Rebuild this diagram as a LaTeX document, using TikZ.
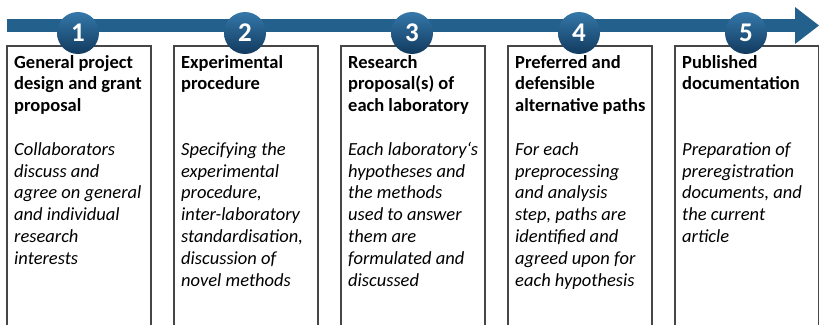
\documentclass[tikz,border=0pt]{standalone}
\usepackage{fontspec}
\setmainfont{Carlito}
\definecolor{barblue}{RGB}{36,96,140}
\definecolor{circtop}{RGB}{52,120,170}
\definecolor{circbot}{RGB}{18,58,94}
\definecolor{boxline}{RGB}{70,70,70}
\tikzset{
  stagebox/.style={draw=boxline, line width=1.2pt},
  stagetext/.style={anchor=north west, inner sep=0pt, align=left, font=\fontsize{18.5}{21.8}\selectfont, text=black},
  numcirc/.style={circle, minimum size=42pt, inner sep=0pt, top color=circtop, bottom color=circbot, draw=none, text=white, font=\fontsize{27}{27}\selectfont\bfseries},
}
\begin{document}
\begin{tikzpicture}[x=1pt,y=1pt]
\useasboundingbox (0,0) rectangle (819,-324);
% timeline arrow
\coordinate (bs) at (7,-19);
\coordinate (be) at (795,-32);
\fill[barblue] (bs) rectangle (be);
\fill[barblue] (795,-7) -- (819,-25.5) -- (795,-44) -- cycle;
% boxes
\foreach \i/\xl in {1/7,2/174,3/341,4/508,5/675}{
  \draw[stagebox] (\xl,-330) -- (\xl,-46) -- (\xl+144,-46) -- (\xl+144,-330);
}
% numbers
\node[numcirc] (c1) at (78,-33) {1};
\node[numcirc] (c2) at (245,-33) {2};
\node[numcirc] (c3) at (412,-33) {3};
\node[numcirc] (c4) at (579,-33) {4};
\node[numcirc] (c5) at (746,-33) {5};
% texts
\node[stagetext] (t1) at (14,-55) {\textbf{General project}\\\textbf{design and grant}\\\textbf{proposal}\\[21.8pt]\textit{Collaborators}\\\textit{discuss and}\\\textit{agree on general}\\\textit{and individual}\\\textit{research}\\\textit{interests}};
\node[stagetext] (t2) at (181,-55) {\textbf{Experimental}\\\textbf{procedure}\\[43.6pt]\textit{Specifying the}\\\textit{experimental}\\\textit{procedure,}\\\textit{inter-laboratory}\\\textit{standardisation,}\\\textit{discussion of}\\\textit{novel methods}};
\node[stagetext] (t3) at (348,-55) {\textbf{Research}\\\textbf{proposal(s) of}\\\textbf{each laboratory}\\[21.8pt]\textit{Each laboratory‘s}\\\textit{hypotheses and}\\\textit{the methods}\\\textit{used to answer}\\\textit{them are}\\\textit{formulated and}\\\textit{discussed}};
\node[stagetext] (t4) at (515,-55) {\textbf{Preferred and}\\\textbf{defensible}\\\textbf{alternative paths}\\[21.8pt]\textit{For each}\\\textit{preprocessing}\\\textit{and analysis}\\\textit{step, paths are}\\\textit{identified and}\\\textit{agreed upon for}\\\textit{each hypothesis}};
\node[stagetext] (t5) at (682,-55) {\textbf{Published}\\\textbf{documentation}\\[43.6pt]\textit{Preparation of}\\\textit{preregistration}\\\textit{documents, and}\\\textit{the current}\\\textit{article}};
\end{tikzpicture}
\end{document}
